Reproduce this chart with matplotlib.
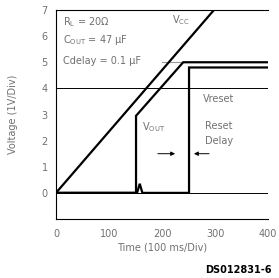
import matplotlib
matplotlib.use('Agg')
import matplotlib.pyplot as plt

# supply ramp (V_CC)
t_vcc = [0, 298]
vcc = [0, 7]

# regulator output (V_OUT)
t_out = [0, 151, 151, 240, 400]
vout = [0, 0, 2.95, 5.0, 5.0]

# reset output, with the small glitch when V_OUT comes up
t_rst = [0, 153, 158, 163, 251, 251, 400]
vrst = [0, 0, 0.35, 0, 0, 4.8, 4.8]

xticks = [0, 100, 200, 300, 400]
yticks = [0, 1, 2, 3, 4, 5, 6, 7]

txt = '#707070'
fig = plt.figure(figsize=(2.79, 2.78), dpi=100)
ax = fig.add_axes([0.2007, 0.2122, 0.7599, 0.7518])

ax.axhline(4, color='black', lw=0.7)
ax.axhline(0, color='black', lw=0.7)
ax.plot([200, 240], [5, 5], color='#999999', lw=0.8)

ax.plot(t_vcc, vcc, color='black', lw=1.6, solid_capstyle='butt')
ax.plot(t_out, vout, color='black', lw=1.6, solid_joinstyle='miter')
ax.plot(t_rst, vrst, color='black', lw=1.6, solid_joinstyle='miter')

ax.set_xlim(0, 400)
ax.set_ylim(-1, 7)
ax.set_xticks(xticks)
ax.set_yticks(yticks)
ax.tick_params(length=0, labelsize=7, labelcolor=txt)
ax.tick_params(axis='x', pad=7)
ax.tick_params(axis='y', pad=6)
ax.spines['right'].set_visible(False)
for s in ['top', 'bottom', 'left']:
    ax.spines[s].set_linewidth(0.8)

ax.set_xlabel('Time (100 ms/Div)', fontsize=7, color=txt, labelpad=3)
ax.set_ylabel('Voltage (1V/Div)', fontsize=7, color=txt, labelpad=17)

ax.text(13, 6.55, r'R$_\mathregular{L}$ = 20Ω', fontsize=7, color=txt, va='center')
ax.text(13, 5.85, r'C$_\mathregular{OUT}$ = 47 µF', fontsize=7, color=txt, va='center')
ax.text(13, 5.05, 'Cdelay = 0.1 µF', fontsize=7, color=txt, va='center')
ax.text(219, 6.6, r'V$_\mathregular{CC}$', fontsize=7, color=txt, va='center')
ax.text(277, 3.6, 'Vreset', fontsize=7, color=txt, va='center')
ax.text(162, 2.5, r'V$_\mathregular{OUT}$', fontsize=7, color=txt, va='center')
ax.text(281, 2.55, 'Reset', fontsize=7, color=txt, va='center')
ax.text(281, 2.0, 'Delay', fontsize=7, color=txt, va='center')

ax.annotate('', xy=(230, 1.5), xytext=(187, 1.5),
            arrowprops=dict(arrowstyle='-|>', color='black', lw=0.7, mutation_scale=6))
ax.annotate('', xy=(255, 1.5), xytext=(294, 1.5),
            arrowprops=dict(arrowstyle='-|>', color='black', lw=0.7, mutation_scale=6))

fig.text(0.975, 0.012, 'DS012831-6', fontsize=7, fontweight='bold', ha='right', va='bottom')

fig.savefig('out.png', dpi=100)
